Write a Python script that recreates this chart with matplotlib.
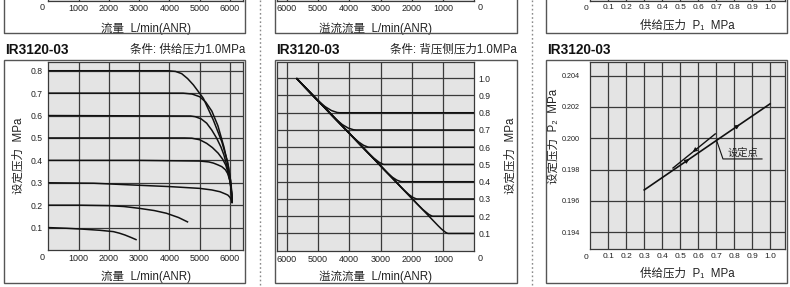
import numpy as np
import matplotlib
matplotlib.use('Agg')
import matplotlib.pyplot as plt
from matplotlib.path import Path
from matplotlib.patches import PathPatch, Rectangle
from matplotlib.lines import Line2D
import matplotlib.transforms as mtransforms

FONT = ['Liberation Sans', 'Noto Sans CJK SC', 'DejaVu Sans']
plt.rcParams['font.family'] = FONT

# ---------------- data ----------------
title = "IR3120-03"
cond1 = "条件: 供给压力1.0MPa"
cond2 = "条件: 背压侧压力1.0MPa"
xlabel1 = "流量  L/min(ANR)"
xlabel2 = "溢流流量  L/min(ANR)"
xlabel3 = "供给压力  P₁  MPa"
ylabel12 = "设定压力  MPa"
ylabel3 = "设定压力  P₂  MPa"

flow_ticks = [1000, 2000, 3000, 4000, 5000, 6000]
flow_labels = ["1000", "2000", "3000", "4000", "5000", "6000"]
p_ticks1 = [0.1, 0.2, 0.3, 0.4, 0.5, 0.6, 0.7, 0.8]
p_labels1 = ["0.1", "0.2", "0.3", "0.4", "0.5", "0.6", "0.7", "0.8"]
p_ticks2 = [0.1, 0.2, 0.3, 0.4, 0.5, 0.6, 0.7, 0.8, 0.9, 1.0]
p_labels2 = ["0.1", "0.2", "0.3", "0.4", "0.5", "0.6", "0.7", "0.8", "0.9", "1.0"]
p1_ticks = [0.1, 0.2, 0.3, 0.4, 0.5, 0.6, 0.7, 0.8, 0.9, 1.0]
p1_labels = ["0.1", "0.2", "0.3", "0.4", "0.5", "0.6", "0.7", "0.8", "0.9", "1.0"]
p2_ticks = [0.194, 0.196, 0.198, 0.200, 0.202, 0.204]
p2_labels = ["0.194", "0.196", "0.198", "0.200", "0.202", "0.204"]

# Panel 1: flow characteristics (flow, set pressure)
flow_c08_x = [0, 3950, 4200, 4405, 4600, 4790, 5120, 5450, 5730, 5920, 6020, 6060, 6070]
flow_c08_y = [0.8, 0.8, 0.797, 0.787, 0.765, 0.737, 0.677, 0.58, 0.483, 0.394, 0.31, 0.25, 0.21]
flow_c07_x = [0, 4450, 4750, 5000, 5200, 5400, 5600, 5800, 5950, 6040, 6070]
flow_c07_y = [0.7, 0.7, 0.696, 0.684, 0.66, 0.62, 0.555, 0.46, 0.37, 0.29, 0.21]
flow_c06_x = [0, 4700, 4850, 5050, 5230, 5400, 5560, 5700, 5800, 5920, 6010, 6060, 6070]
flow_c06_y = [0.6, 0.598, 0.595, 0.585, 0.566, 0.535, 0.499, 0.46, 0.424, 0.365, 0.30, 0.24, 0.21]
flow_c05_x = [0, 4500, 4740, 5000, 5230, 5420, 5610, 5760, 5860, 5950, 6020, 6060, 6070]
flow_c05_y = [0.5, 0.5, 0.499, 0.492, 0.476, 0.457, 0.432, 0.405, 0.379, 0.34, 0.29, 0.24, 0.21]
flow_c04_x = [0, 3000, 5000, 5300, 5450, 5600, 5730, 5850, 5920, 6000, 6050, 6070]
flow_c04_y = [0.4, 0.4, 0.397, 0.393, 0.388, 0.38, 0.372, 0.358, 0.342, 0.31, 0.26, 0.21]
flow_c03_x = [0, 1500, 2800, 4000, 5000, 5400, 5670, 5850, 5930, 6000, 6050, 6077]
flow_c03_y = [0.3, 0.298, 0.29, 0.283, 0.275, 0.268, 0.26, 0.25, 0.245, 0.235, 0.222, 0.208]
flow_c02_x = [0, 1000, 2000, 2500, 3000, 3500, 3900, 4300, 4620]
flow_c02_y = [0.2, 0.2, 0.198, 0.194, 0.186, 0.176, 0.164, 0.145, 0.124]
flow_c01_x = [0, 600, 1150, 1700, 2150, 2350, 2530, 2750, 2920]
flow_c01_y = [0.1, 0.097, 0.093, 0.088, 0.082, 0.075, 0.067, 0.055, 0.045]
flow_curves = [(flow_c08_x, flow_c08_y), (flow_c07_x, flow_c07_y), (flow_c06_x, flow_c06_y),
               (flow_c05_x, flow_c05_y), (flow_c04_x, flow_c04_y), (flow_c03_x, flow_c03_y),
               (flow_c02_x, flow_c02_y), (flow_c01_x, flow_c01_y)]

# Panel 2: relief characteristics
relief_diag_x = [5690, 920]        # common relief line (flow) at ...
relief_diag_y = [1.0, 0.1]         # ... these pressures
relief_set = [0.8, 0.7, 0.6, 0.5, 0.4, 0.3, 0.2, 0.1]
relief_depart_y = [0.89, 0.78, 0.68, 0.595, 0.465, 0.365, 0.27, 0.145]
relief_knee_x = [4300, 3780, 3350, 2880, 2300, 1820, 1320, 830]

# Panel 3: pressure characteristics
press_main_x = [0.3, 0.7, 1.0]
press_main_y = [0.1967, 0.19985, 0.2022]
press_hyst_x = [0.46, 0.695]
press_hyst_y = [0.1981, 0.20028]
setpoint = (0.703, 0.19985)

# ---------------- figure ----------------
W, H = 790, 287
fig = plt.figure(figsize=(W / 100, H / 100), dpi=100)
TXT = '#222222'
GRIDC = '#3a3a3a'
FACE = '#e4e4e4'


def px_axes(x0, y0, x1, y1):
    return fig.add_axes([x0 / W, 1 - y1 / H, (x1 - x0) / W, (y1 - y0) / H])


def fig_line(xs, ys, **kw):
    fig.add_artist(Line2D([x / W for x in xs], [1 - y / H for y in ys],
                          transform=fig.transFigure, **kw))


def fig_text(x, y, s, **kw):
    fig.text(x / W, 1 - y / H, s, **kw)


def style(ax, xlim, ylim, xt, yt):
    ax.set_facecolor(FACE)
    ax.set_xlim(*xlim)
    ax.set_ylim(*ylim)
    for v in xt:
        ax.axvline(v, color=GRIDC, lw=0.9, zorder=1)
    for v in yt:
        ax.axhline(v, color=GRIDC, lw=0.9, zorder=1)
    for s in ax.spines.values():
        s.set_color(GRIDC)
        s.set_linewidth(0.9)
    ax.tick_params(length=0, colors=TXT)


def corner_zero(ax, ax_x, dx, dy, size):
    off = mtransforms.ScaledTranslation(dx / 100, dy / 100, fig.dpi_scale_trans)
    ax.text(ax_x, 0, "0", transform=ax.transAxes + off, ha='center', va='center',
            fontsize=size, color=TXT)


# panel geometry (pixels)
P1 = (48.3, 62, 243, 250)
P2 = (276.7, 61.7, 474.3, 250.7)
P3 = (590.3, 61.7, 785, 249.3)
lim1 = ((0, 6430), (0, 0.839))
lim2 = ((6320, 0), (0, 1.096))
lim3 = ((0, 1.083), (0.19291, 0.20489))

# ---- separators ----
for xs in (260, 532):
    fig_line([xs, xs], [0, H], color='#8a8a8a', lw=1.0, linestyle=(0, (1.2, 1.8)))

# ---- top strip (bottom part of previous row) ----
tops = [
    (P1, lim1, flow_ticks, flow_labels, xlabel1, 6.5, (4, 245), 0, -6),
    (P2, lim2, flow_ticks, flow_labels, xlabel2, 6.5, (275, 517), 1, 6),
    (P3, lim3, p1_ticks, p1_labels, xlabel3, 6.0, (546, 787), 0, -4),
]
for (geo, lim, xt, xl, lab, fs, box, zx, zdx) in tops:
    ax = px_axes(geo[0], -200, geo[2], 1)
    style(ax, lim[0], lim[1], xt, [])
    ax.set_xticks(xt)
    ax.set_xticklabels(xl, fontsize=fs)
    ax.tick_params(axis='x', pad=2.2)
    ax.set_yticks([])
    ax.set_xlabel(lab, fontsize=8.3, color=TXT, labelpad=6.5)
    corner_zero(ax, zx, zdx, -7, fs)
    fig_line([box[0], box[0], box[1], box[1]], [-2, 33, 33, -2], color='#555555', lw=1.0)

# ---- boxes and titles ----
boxes = [(4, 245), (275, 517), (546, 787)]
for (bx0, bx1) in boxes:
    fig.add_artist(Rectangle((bx0 / W, 1 - 283 / H), (bx1 - bx0) / W, (283 - 60) / H,
                             transform=fig.transFigure, fill=False,
                             edgecolor='#555555', lw=1.0))
    fig_text(bx0 + 1, 50, title, fontsize=9.8, fontweight='bold', color='#111111',
             ha='left', va='center')
fig_text(245, 50, cond1, fontsize=8.3, color=TXT, ha='right', va='center')
fig_text(517, 50, cond2, fontsize=8.3, color=TXT, ha='right', va='center')

# ---- panel 1 ----
ax1 = px_axes(*P1)
style(ax1, lim1[0], lim1[1], flow_ticks, p_ticks1)
ax1.set_xticks(flow_ticks)
ax1.set_xticklabels(flow_labels, fontsize=6.5)
ax1.set_yticks(p_ticks1)
ax1.set_yticklabels(p_labels1, fontsize=6.2)
ax1.tick_params(axis='x', pad=3.0)
ax1.tick_params(axis='y', pad=4.3)
ax1.set_xlabel(xlabel1, fontsize=8.3, color=TXT, labelpad=5)
ax1.set_ylabel(ylabel12, fontsize=8.3, color=TXT, labelpad=4)
corner_zero(ax1, 0, -6, -8, 6.5)
for cx, cy in flow_curves:
    ax1.plot(cx, cy, color='#111111', lw=1.1, zorder=3, solid_capstyle='butt')

# ---- panel 2 ----
ax2 = px_axes(*P2)
style(ax2, lim2[0], lim2[1], flow_ticks, p_ticks2)
ax2.set_xticks(flow_ticks)
ax2.set_xticklabels(flow_labels, fontsize=6.5)
ax2.yaxis.tick_right()
ax2.yaxis.set_label_position('right')
ax2.set_yticks(p_ticks2)
ax2.set_yticklabels(p_labels2, fontsize=6.2)
ax2.tick_params(axis='x', pad=3.0)
ax2.tick_params(axis='y', pad=3.0)
ax2.set_xlabel(xlabel2, fontsize=8.3, color=TXT, labelpad=5)
ax2.set_ylabel(ylabel12, fontsize=8.3, color=TXT, labelpad=10, rotation=90)
corner_zero(ax2, 1, 6, -8, 6.5)


def diag_x(y):
    return np.interp(y, relief_diag_y[::-1], relief_diag_x[::-1])


for p, dy, kx in zip(relief_set, relief_depart_y, relief_knee_x):
    dx = diag_x(dy)
    verts = [(relief_diag_x[0], relief_diag_y[0]), (dx, dy),
             (diag_x(p), p), (kx, p), (0, p)]
    codes = [Path.MOVETO, Path.LINETO, Path.CURVE3, Path.CURVE3, Path.LINETO]
    ax2.add_patch(PathPatch(Path(verts, codes), fill=False, edgecolor='#111111',
                            lw=1.1, zorder=3))

# ---- panel 3 ----
ax3 = px_axes(*P3)
style(ax3, lim3[0], lim3[1], p1_ticks, p2_ticks)
ax3.set_xticks(p1_ticks)
ax3.set_xticklabels(p1_labels, fontsize=6.0)
ax3.set_yticks(p2_ticks)
ax3.set_yticklabels(p2_labels, fontsize=5.2)
ax3.tick_params(axis='x', pad=3.0)
ax3.tick_params(axis='y', pad=7.5)
ax3.set_xlabel(xlabel3, fontsize=8.3, color=TXT, labelpad=5)
ax3.set_ylabel(ylabel3, fontsize=8.3, color=TXT)
ax3.yaxis.set_label_coords(-0.158, 0.6)
corner_zero(ax3, 0, -4, -8, 6.0)
ax3.plot(press_main_x, press_main_y, color='#111111', lw=1.2, zorder=3)
ax3.plot(press_hyst_x, press_hyst_y, color='#111111', lw=1.0, zorder=3)


def arrow_on(ax, xs, ys, x, dirn):
    y = np.interp(x, xs, ys)
    d = 0.02 * dirn
    y0 = np.interp(x - d, xs, ys)
    ax.annotate('', xy=(x, y), xytext=(x - d, y0),
                arrowprops=dict(arrowstyle='-|>', color='#111111', lw=0.8,
                                mutation_scale=6), zorder=4)


arrow_on(ax3, press_main_x, press_main_y, 0.83, 1)
arrow_on(ax3, press_main_x, press_main_y, 0.55, 1)
arrow_on(ax3, press_hyst_x, press_hyst_y, 0.57, -1)

# set-point callout
ax3.plot([setpoint[0], 0.738, 0.955], [setpoint[1], 0.19868, 0.19868],
         color='#111111', lw=0.8, zorder=4)
ax3.text(0.85, 0.19878, "设定点", fontsize=7.4, color=TXT, ha='center', va='bottom',
         zorder=5)

fig.savefig('out.png', dpi=100)
